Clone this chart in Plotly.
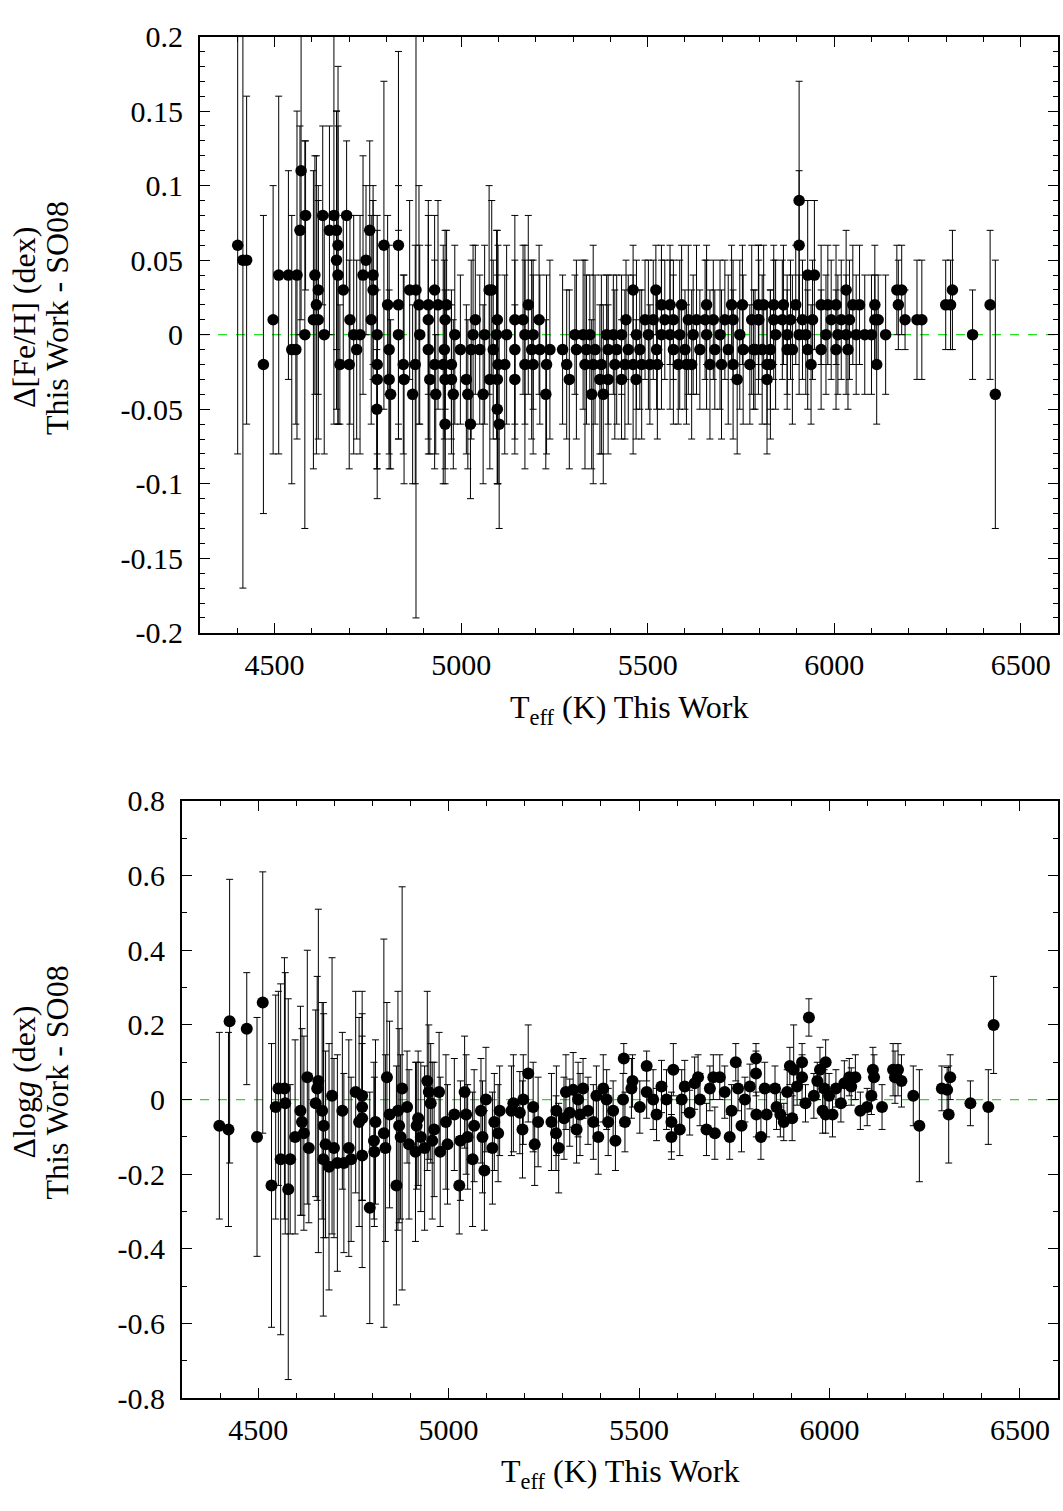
import plotly.graph_objects as go

# ---------------- Top panel: Delta [Fe/H] ----------------
fe_teff = [4401, 4415, 4425, 4470, 4496, 4511, 4537, 4546, 4557, 4560, 4568, 4571, 4581, 4583,
           4604, 4608, 4612, 4617, 4617, 4629, 4633, 4647, 4659, 4666, 4670, 4666, 4670, 4675,
           4684, 4693, 4700, 4702, 4712, 4720, 4729, 4737, 4745, 4755, 4759, 4764, 4764, 4775,
           4775, 4775, 4774, 4793, 4803, 4807, 4807, 4811, 4832, 4832, 4832, 4845, 4847, 4862,
           4879, 4877, 4870, 4887, 4889, 4912, 4929, 4938, 4961, 4912, 4957, 4912, 4929, 4952,
           4974, 4916, 4957, 4974, 4932, 4979, 4955, 4957, 4983, 4998, 5014, 5018, 5025, 5038,
           5032, 5027, 5050, 5063, 5059, 5075,
           5082, 5097, 5095, 5086, 5099, 5117, 5077, 5097, 5097, 5102, 5122, 5144, 5144, 5144,
           5166, 5180, 5171, 5171, 5193, 5193, 5189, 5209, 5211, 5229, 5227, 5238,
           5272, 5283, 5290, 5305, 5309, 5327, 5345, 5332, 5336, 5350, 5354, 5359, 5372, 5381,
           5376, 5390, 5394, 5394, 5408, 5412, 5417, 5430, 5430, 5439, 5442, 5448, 5461, 5461,
           5469, 5470, 5479, 5484, 5493, 5502, 5506, 5515, 5522, 5524, 5526, 5537, 5537, 5546,
           5560, 5560, 5569, 5569, 5582, 5591, 5586, 5600, 5604, 5609, 5618, 5622, 5631, 5640,
           5658, 5654, 5658, 5667, 5676, 5680, 5694, 5698, 5707, 5716, 5725, 5729, 5729, 5740,
           5747, 5754, 5756, 5774, 5779, 5788, 5797, 5797,
           5784, 5798, 5811, 5807, 5820, 5820, 5829, 5829, 5838, 5838, 5843, 5864, 5861, 5874,
           5874, 5883, 5888, 5897, 5906, 5906, 5906, 5929, 5947, 5929, 5938, 5924, 5942, 5915,
           5965, 5965, 5978, 5983, 5992, 6005, 6005, 6010, 6019, 6032, 6032, 6037, 6041, 6050,
           6059, 6068, 6082, 6100, 6109, 6109, 6118, 6114, 6138, 6168, 6181, 6172, 6190, 6222,
           6235, 6299, 6312, 6317, 6371, 6418, 6432]
fe_delta = [0.06, 0.05, 0.05, -0.02, 0.01, 0.04, 0.04, -0.01, -0.01, 0.04, 0.07, 0.11, 0.00, 0.08,
            0.01, 0.04, 0.02, 0.03, 0.01, 0.08, 0.00, 0.07, 0.08, 0.07, 0.06, 0.05, 0.04, -0.02,
            0.03, 0.08, -0.02, 0.01, 0.00, -0.01, 0.00, 0.04, 0.05, 0.07, 0.01, 0.04, 0.03, 0.00,
            -0.02, -0.03, -0.05, 0.06, 0.02, -0.01, -0.03, -0.04, 0.06, 0.02, 0.00, -0.02, -0.03, 0.03,
            0.03, -0.02, -0.04, 0.02, 0.00, 0.02, 0.03, 0.02, 0.02, 0.01, 0.01, -0.01, -0.02, -0.02,
            -0.02, -0.03, -0.03, -0.03, -0.04, -0.04, -0.01, -0.06, 0.00, -0.01, -0.03, -0.04, -0.06, 0.01,
            0.00, -0.01, -0.01, 0.00, -0.04, 0.03,
            0.03, 0.01, 0.00, -0.01, -0.02, -0.02, -0.03, -0.03, -0.05, -0.06, 0.00, 0.01, -0.01, -0.03,
            0.01, 0.02, 0.00, -0.02, 0.00, -0.02, -0.01, 0.01, -0.01, -0.02, -0.04, -0.01,
            -0.01, -0.02, -0.03, 0.00, -0.01, 0.00, 0.00, -0.02, -0.01, -0.04, -0.02, -0.01, -0.03, -0.04,
            -0.02, 0.00, -0.01, -0.03, 0.00, -0.02, -0.01, -0.03, 0.00, -0.02, 0.01, -0.01, 0.03, -0.02,
            -0.03, 0.00, -0.01, -0.02, 0.01, 0.00, -0.02, 0.01, 0.03, -0.01, -0.02, 0.02, 0.00, 0.01,
            0.02, 0.00, 0.01, -0.01, -0.02, 0.02, 0.00, -0.01, -0.02, 0.01, -0.02, 0.00, 0.01, -0.01,
            0.02, 0.01, 0.00, -0.02, 0.01, -0.01, 0.00, -0.02, 0.01, -0.01, 0.02, 0.01, -0.02, -0.03,
            0.00, 0.02, -0.01, -0.02, 0.01, -0.01, 0.02, 0.01,
            -0.01, 0.01, 0.02, -0.01, -0.02, -0.03, -0.01, -0.02, 0.02, 0.01, 0.00, 0.02, 0.01, -0.01,
            0.00, 0.01, -0.01, 0.02, 0.09, 0.06, 0.00, 0.04, 0.04, -0.01, -0.02, 0.00, 0.01, 0.01,
            0.02, -0.01, 0.00, 0.02, 0.01, 0.02, -0.01, 0.00, 0.01, 0.03, 0.00, -0.01, 0.01, 0.02,
            0.00, 0.02, 0.00, 0.00, 0.02, 0.01, 0.01, -0.02, 0.00, 0.03, 0.03, 0.02, 0.01, 0.01,
            0.01, 0.02, 0.02, 0.03, 0.00, 0.02, -0.04]
fe_err = [0.14, 0.22, 0.11, 0.10, 0.09, 0.12, 0.07, 0.09, 0.05, 0.11, 0.07, 0.10, 0.13, 0.05,
          0.10, 0.08, 0.10, 0.07, 0.08, 0.06, 0.08, 0.07, 0.14, 0.08, 0.12, 0.10, 0.10, 0.04,
          0.05, 0.05, 0.07, 0.07, 0.08, 0.06, 0.08, 0.08, 0.05, 0.06, 0.07, 0.06, 0.06, 0.08,
          0.09, 0.06, 0.04, 0.11, 0.06, 0.07, 0.06, 0.05, 0.13, 0.08, 0.07, 0.06, 0.07, 0.06,
          0.22, 0.08, 0.06, 0.08, 0.06, 0.06, 0.05, 0.07, 0.05, 0.08, 0.06, 0.07, 0.07, 0.08,
          0.05, 0.05, 0.06, 0.05, 0.04, 0.05, 0.06, 0.04, 0.06, 0.05, 0.05, 0.05, 0.05, 0.05,
          0.06, 0.06, 0.05, 0.06, 0.06, 0.07,
          0.06, 0.06, 0.07, 0.06, 0.08, 0.06, 0.06, 0.07, 0.05, 0.07, 0.06, 0.07, 0.06, 0.05,
          0.05, 0.06, 0.06, 0.07, 0.05, 0.06, 0.06, 0.05, 0.05, 0.06, 0.05, 0.06,
          0.05, 0.05, 0.06, 0.04, 0.06, 0.05, 0.04, 0.07, 0.05, 0.05, 0.08, 0.05, 0.05, 0.06,
          0.06, 0.04, 0.05, 0.05, 0.04, 0.05, 0.05, 0.04, 0.04, 0.05, 0.04, 0.05, 0.03, 0.06,
          0.04, 0.05, 0.04, 0.05, 0.04, 0.05, 0.04, 0.04, 0.03, 0.04, 0.05, 0.04, 0.05, 0.04,
          0.04, 0.05, 0.04, 0.05, 0.04, 0.04, 0.05, 0.04, 0.04, 0.05, 0.05, 0.04, 0.05, 0.04,
          0.04, 0.04, 0.05, 0.05, 0.04, 0.04, 0.05, 0.05, 0.04, 0.05, 0.04, 0.04, 0.05, 0.05,
          0.05, 0.04, 0.05, 0.04, 0.05, 0.04, 0.04, 0.05,
          0.04, 0.04, 0.04, 0.05, 0.04, 0.05, 0.04, 0.05, 0.04, 0.04, 0.05, 0.04, 0.04, 0.04,
          0.04, 0.04, 0.05, 0.04, 0.08, 0.05, 0.04, 0.05, 0.05, 0.04, 0.04, 0.04, 0.04, 0.04,
          0.04, 0.04, 0.04, 0.04, 0.04, 0.04, 0.04, 0.04, 0.04, 0.04, 0.04, 0.04, 0.04, 0.04,
          0.04, 0.04, 0.04, 0.04, 0.04, 0.03, 0.03, 0.04, 0.04, 0.03, 0.03, 0.03, 0.02, 0.04,
          0.04, 0.03, 0.03, 0.04, 0.03, 0.05, 0.09]

# ---------------- Bottom panel: Delta log g ----------------
lg_teff = [4398, 4422, 4425, 4470, 4497, 4512, 4535, 4546, 4553, 4559, 4569, 4571, 4579, 4584,
           4597, 4611, 4615, 4620, 4629, 4633, 4651, 4655, 4658, 4668, 4671, 4672, 4677, 4686,
           4694, 4699, 4708, 4721, 4725, 4738, 4744, 4756, 4765, 4773, 4773, 4773, 4773, 4793,
           4804, 4805, 4808, 4830, 4834, 4838, 4845, 4863, 4867, 4870, 4878, 4874, 4891, 4896,
           4913, 4916, 4920, 4927, 4937, 4944, 4948, 4953, 4957, 4962, 4975, 4978, 4993, 4997,
           5015, 5028, 5031, 5042, 5046, 5050, 5063, 5067, 5085, 5089, 5094, 5098, 5115, 5120,
           5134, 5130, 5165, 5170, 5187, 5196, 5194, 5209, 5222, 5226, 5235, 5270, 5283, 5282,
           5289, 5303, 5308, 5318, 5327, 5336, 5340, 5345, 5353, 5366, 5380, 5388, 5393, 5406,
           5415, 5419, 5432, 5438, 5458, 5460, 5463, 5483, 5480, 5502, 5520, 5520, 5537, 5546,
           5559, 5572, 5585, 5590, 5585, 5607, 5612, 5620, 5633, 5646, 5655, 5660, 5677, 5686,
           5695, 5699, 5712, 5725, 5738, 5743, 5754, 5760, 5769, 5778, 5791, 5807, 5807, 5808,
           5820, 5830, 5835, 5857, 5861,
           5871, 5880, 5889, 5896, 5906, 5902, 5915, 5928, 5928, 5937, 5946, 5959, 5968, 5975,
           5982, 5986, 5990, 5990, 5999, 6008, 6017, 6030, 6039, 6052, 6057, 6068, 6081, 6099,
           6110, 6114, 6117, 6138, 6167, 6180, 6172, 6189, 6220, 6236, 6295, 6309, 6313, 6317,
           6370, 6417, 6431]
lg_delta = [-0.07, -0.08, 0.21, 0.19, -0.10, 0.26, -0.23, -0.02, 0.03, -0.16, 0.03, -0.01, -0.24, -0.16,
            -0.10, -0.03, -0.06, -0.09, 0.06, -0.13, -0.01, 0.03, 0.05, -0.03, -0.16, -0.07, -0.12, -0.18,
            0.01, -0.13, -0.17, -0.03, -0.17, -0.13, -0.16, 0.02, -0.06, 0.01, -0.02, -0.05, -0.15, -0.29,
            -0.11, -0.14, -0.06, -0.09, -0.13, 0.06, -0.04, -0.23, -0.03, -0.07, 0.03, -0.10, -0.02, -0.12,
            -0.14, -0.07, -0.05, -0.10, -0.13, 0.05, 0.02, -0.01, -0.11, -0.08, 0.02, -0.14, -0.06, -0.12,
            -0.04, -0.23, -0.11, 0.02, -0.04, -0.10, -0.16, -0.07, -0.03, -0.10, -0.19, 0.00, -0.13, -0.06,
            -0.03, -0.09, -0.03, -0.01, -0.035, 0.00, -0.08, 0.07, -0.02, -0.12, -0.06, -0.06, -0.03, -0.09,
            -0.13, -0.05, 0.02, -0.035, 0.026, -0.08, 0.00, -0.04, 0.03, -0.03, -0.06, 0.01, -0.10, 0.03,
            0.00, -0.06, -0.03, -0.11, 0.00, 0.11, -0.06, 0.05, 0.03, -0.02, 0.09, 0.02, 0.00, -0.04,
            0.035, 0.00, -0.10, 0.08, -0.06, -0.08, 0.00, 0.035, -0.035, 0.044, 0.06, 0.00, -0.08, 0.03,
            0.06, -0.09, 0.06, 0.02, -0.10, -0.03, 0.10, 0.03, -0.07, 0.00, 0.035, 0.11, 0.07, -0.04,
            -0.10, 0.03, -0.04, 0.03, -0.02,
            -0.04, -0.06, 0.02, 0.09, 0.08, -0.05, 0.035, 0.10, 0.06, -0.01, 0.22, 0.01, 0.05, 0.08,
            -0.03, 0.03, 0.10, -0.04, 0.01, -0.04, 0.03, -0.01, 0.044, 0.06, 0.035, 0.06, -0.03, -0.02,
            0.01, 0.08, 0.06, -0.02, 0.08, 0.08, 0.06, 0.05, 0.01, -0.07, 0.03, 0.026, -0.04, 0.06,
            -0.01, -0.02, 0.20]
lg_err = [0.25, 0.26, 0.38, 0.15, 0.32, 0.35, 0.38, 0.30, 0.26, 0.47, 0.35, 0.35, 0.51, 0.20,
          0.26, 0.28, 0.25, 0.26, 0.34, 0.20, 0.25, 0.30, 0.46, 0.29, 0.42, 0.30, 0.25, 0.33,
          0.37, 0.24, 0.29, 0.21, 0.24, 0.29, 0.22, 0.27, 0.28, 0.28, 0.25, 0.22, 0.30, 0.31,
          0.21, 0.20, 0.22, 0.52, 0.25, 0.20, 0.25, 0.32, 0.32, 0.26, 0.54, 0.22, 0.15, 0.20,
          0.24, 0.17, 0.18, 0.20, 0.22, 0.24, 0.18, 0.16, 0.21, 0.18, 0.16, 0.20, 0.18, 0.16,
          0.15, 0.13, 0.16, 0.15, 0.16, 0.14, 0.18, 0.15, 0.14, 0.15, 0.16, 0.14, 0.15, 0.13,
          0.12, 0.13, 0.12, 0.13, 0.11, 0.12, 0.13, 0.13, 0.12, 0.11, 0.12, 0.13, 0.12, 0.10,
          0.12, 0.11, 0.10, 0.09, 0.10, 0.09, 0.10, 0.11, 0.08, 0.09, 0.10, 0.08, 0.10, 0.09,
          0.08, 0.09, 0.08, 0.08, 0.07, 0.04, 0.08, 0.07, 0.08, 0.07, 0.04, 0.07, 0.08, 0.07,
          0.07, 0.08, 0.06, 0.07, 0.08, 0.07, 0.08, 0.07, 0.06, 0.07, 0.06, 0.07, 0.07, 0.06,
          0.06, 0.07, 0.06, 0.07, 0.06, 0.07, 0.05, 0.06, 0.07, 0.06, 0.06, 0.04, 0.06, 0.06,
          0.06, 0.07, 0.06, 0.06, 0.06,
          0.06, 0.05, 0.06, 0.05, 0.12, 0.06, 0.05, 0.05, 0.06, 0.05, 0.05, 0.06, 0.05, 0.06,
          0.06, 0.05, 0.06, 0.05, 0.06, 0.06, 0.05, 0.05, 0.06, 0.05, 0.05, 0.06, 0.05, 0.05,
          0.05, 0.06, 0.06, 0.06, 0.07, 0.07, 0.07, 0.07, 0.08, 0.15, 0.06, 0.06, 0.13, 0.06,
          0.06, 0.10, 0.13]

xtick_vals = [4500, 5000, 5500, 6000, 6500]
fe_ticks = [0.2, 0.15, 0.1, 0.05, 0, -0.05, -0.1, -0.15, -0.2]
fe_tick_text = ["0.2", "0.15", "0.1", "0.05", "0", "-0.05", "-0.1", "-0.15", "-0.2"]
lg_ticks = [0.8, 0.6, 0.4, 0.2, 0, -0.2, -0.4, -0.6, -0.8]
lg_tick_text = ["0.8", "0.6", "0.4", "0.2", "0", "-0.2", "-0.4", "-0.6", "-0.8"]

W, H = 1063, 1511
FONT = "Liberation Serif"
TS = 30   # tick label size
LS = 32   # axis title size

def px(x):
    return x / W

def py(y):
    return 1 - y / H

fig = go.Figure()

# zero reference lines
for xa, ya in (("x", "y"), ("x2", "y2")):
    fig.add_trace(go.Scatter(x=[4300, 6600], y=[0, 0], mode="lines",
                             line=dict(color="#22e022", width=1.2, dash="dash"),
                             xaxis=xa, yaxis=ya, hoverinfo="skip", showlegend=False))

fig.add_trace(go.Scatter(x=fe_teff, y=fe_delta, mode="markers",
                         marker=dict(color="black", size=11.5),
                         error_y=dict(type="data", array=fe_err, color="black", thickness=1, width=3.5),
                         xaxis="x", yaxis="y", showlegend=False, cliponaxis=True))
fig.add_trace(go.Scatter(x=lg_teff, y=lg_delta, mode="markers",
                         marker=dict(color="black", size=12),
                         error_y=dict(type="data", array=lg_err, color="black", thickness=1, width=3.5),
                         xaxis="x2", yaxis="y2", showlegend=False, cliponaxis=True))

axis_common = dict(showline=True, linecolor="black", linewidth=2, mirror="allticks",
                   ticks="inside", ticklen=10, tickwidth=1, tickcolor="black",
                   showgrid=False, zeroline=False,
                   tickfont=dict(family=FONT, size=TS, color="black"))

fig.update_layout(
    width=W, height=H,
    margin=dict(l=0, r=0, t=0, b=0),
    paper_bgcolor="white", plot_bgcolor="white",
    xaxis=dict(domain=[px(200), px(1058)], range=[4300, 6600], anchor="y",
               tickvals=xtick_vals, ticklabelstandoff=4,
               minor=dict(dtick=100, tick0=4300, ticks="inside", ticklen=5, tickcolor="black"),
               **axis_common),
    yaxis=dict(domain=[py(630), py(20)], range=[-0.2, 0.2], anchor="x",
               tickvals=fe_ticks, ticktext=fe_tick_text, ticklabelstandoff=9,
               minor=dict(dtick=0.01, tick0=0, ticks="inside", ticklen=5, tickcolor="black"),
               **axis_common),
    xaxis2=dict(domain=[px(182), px(1058)], range=[4300, 6600], anchor="y2",
                tickvals=xtick_vals, ticklabelstandoff=4,
                minor=dict(dtick=100, tick0=4300, ticks="inside", ticklen=5, tickcolor="black"),
                **axis_common),
    yaxis2=dict(domain=[py(1413), py(802)], range=[-0.8, 0.8], anchor="x2",
                tickvals=lg_ticks, ticktext=lg_tick_text, ticklabelstandoff=9,
                minor=dict(dtick=0.1, tick0=0, ticks="inside", ticklen=5, tickcolor="black"),
                **axis_common),
)

ann_font = dict(family=FONT, size=LS, color="black")
fig.add_annotation(x=px(629), y=py(708), xref="paper", yref="paper", showarrow=False,
                   xanchor="center", yanchor="middle",
                   text="T<sub>eff</sub> (K) This Work", font=ann_font)
fig.add_annotation(x=px(620), y=py(1490), xref="paper", yref="paper", showarrow=False,
                   xanchor="center", yanchor="middle",
                   text="T<sub>eff</sub> (K) This Work", font=ann_font)
# y titles: two rotated lines each
for cx, cy, txt in ((24, 308, "Δ[Fe/H] (dex)"), (57, 308, "This Work - SO08"),
                    (24, 1090, "Δlog<i>g</i> (dex)"), (57, 1090, "This Work - SO08")):
    fig.add_annotation(x=px(cx), y=py(cy), xref="paper", yref="paper", showarrow=False,
                       xanchor="center", yanchor="middle", textangle=-90,
                       text=txt, font=ann_font)

fig.write_html("out.html")
